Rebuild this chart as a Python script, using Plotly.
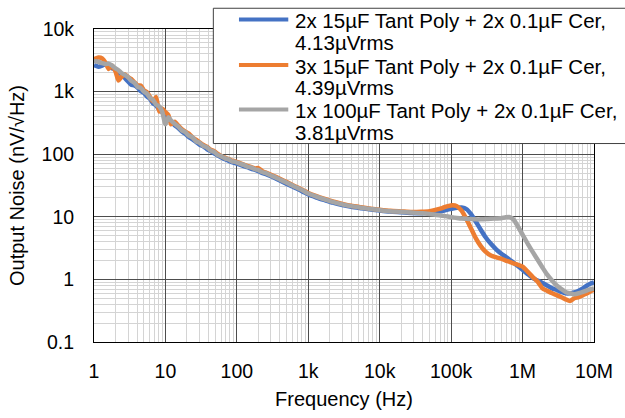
import plotly.graph_objects as go

# Frequency points (Hz)
freq = [
    1, 1.15, 1.3, 1.45, 1.6, 1.8, 2, 2.2, 2.4, 2.7,
    3, 3.3, 3.7, 4.1, 4.5, 5, 5.5, 6.1, 6.7, 7.4,
    8.2, 9, 10, 11, 12, 13.5, 15, 17, 19, 21,
    24, 27, 30, 34, 38, 43, 48, 54, 60, 68,
    76, 85, 95, 110, 125, 140, 160, 180, 200, 230,
    260, 300, 350, 400, 500, 600, 700, 850, 1000, 1300,
    1700, 2200, 3000, 4000, 5500, 7500, 10000, 14000, 20000, 28000,
    38000, 50e3, 62e3, 75e3, 90e3, 105e3, 120e3, 140e3, 165e3, 190e3,
    220e3, 260e3, 300e3, 360e3, 430e3, 500e3, 580e3, 660e3, 750e3, 850e3,
    1e6, 1.2e6, 1.4e6, 1.65e6, 1.9e6, 2.2e6, 2.6e6, 3e6, 3.5e6, 4e6,
    4.6e6, 5.3e6, 6.1e6, 7e6, 8e6, 9e6, 10e6,
]

# Output noise (nV/rtHz), 2x 15uF tantalum polymer
noise_2x15 = [
    2650, 2500, 2600, 2750, 2550, 2350, 2300, 2000, 1900, 1650,
    1450, 1300, 1250, 1150, 1020, 960, 840, 760, 650, 600,
    520, 470, 420, 360, 330, 290, 265, 230, 212, 190,
    172, 156, 143, 133, 121, 112, 103, 95, 89, 83,
    79, 75, 72, 68, 64.5, 62, 58.5, 56, 53.5, 50,
    47.5, 44.5, 41, 38, 33.5, 30.5, 28, 25, 22.7, 20.3,
    18.4, 16.8, 15.4, 14.4, 13.7, 13.1, 12.6, 12.1, 11.8, 11.5,
    11.4, 11.6, 11.9, 12.4, 13, 13.6, 14, 14.1, 13.2, 11,
    8.5, 6.2, 4.8, 3.7, 3.0, 2.6, 2.3, 2.05, 1.85, 1.65,
    1.42, 1.2, 1.05, 0.95, 0.88, 0.8, 0.72, 0.68, 0.63, 0.6,
    0.6, 0.62, 0.66, 0.72, 0.8, 0.86, 0.9,
]

# Output noise (nV/rtHz), 3x 15uF tantalum polymer
noise_3x15 = [
    3300, 3500, 3400, 2900, 2300, 2600, 2100, 1500, 1700, 1900,
    1700, 1600, 1400, 1250, 1250, 1050, 980, 820, 700, 820,
    480, 530, 470, 420, 300, 330, 290, 250, 230, 215,
    185, 170, 155, 140, 132, 118, 112, 101, 94, 88,
    84, 79, 77, 72, 68, 65, 62, 59, 60, 53,
    50.5, 47, 43.5, 40.5, 35.8, 32.2, 29.6, 26.6, 24, 21.4,
    19.3, 17.6, 16.1, 15, 14.2, 13.5, 13, 12.5, 12.2, 11.9,
    12, 12.3, 13, 13.8, 14.8, 15.3, 14.8, 12.5, 9, 6.5,
    4.6, 3.4, 2.8, 2.4, 2.25, 2.15, 2.0, 1.9, 1.8, 1.72,
    1.6, 1.3, 1.08, 0.9, 0.72, 0.66, 0.6, 0.56, 0.52, 0.48,
    0.45, 0.5, 0.52, 0.56, 0.6, 0.65, 0.68,
]

# Output noise (nV/rtHz), 1x 100uF tantalum polymer
noise_1x100 = [
    3100, 3000, 2850, 2750, 2800, 2600, 2350, 2200, 2000, 1850,
    1700, 1500, 1380, 1180, 1150, 1000, 930, 790, 740, 620,
    580, 480, 300, 390, 345, 305, 278, 240, 225, 200,
    185, 160, 152, 135, 129, 114, 109, 97, 93, 86,
    83, 77, 75.5, 70.5, 67.5, 63.5, 61, 57.5, 55.5, 51.5,
    49.5, 45.8, 42.5, 39.5, 35, 31.6, 29, 26, 23.5, 21,
    19, 17.3, 15.8, 14.8, 14, 13.3, 12.8, 12.3, 12, 11.7,
    11.4, 11.1, 10.7, 10.4, 10.1, 9.8, 9.6, 9.4, 9.3, 9.2,
    9.1, 9.1, 9.2, 9.3, 9.4, 9.5, 9.8, 9.9, 9.0, 7.2,
    5.2, 3.6, 2.7, 2.0, 1.55, 1.2, 0.95, 0.8, 0.7, 0.63,
    0.6, 0.58, 0.6, 0.63, 0.67, 0.7, 0.72,
]

series_names = [
    ["2x 15µF Tant Poly + 2x 0.1µF Cer,", "4.13µVrms"],
    ["3x 15µF Tant Poly + 2x 0.1µF Cer,", "4.39µVrms"],
    ["1x 100µF Tant Poly + 2x 0.1µF Cer,", "3.81µVrms"],
]
series_values = [noise_2x15, noise_3x15, noise_1x100]
series_colors = ["#4472C4", "#ED7D31", "#A5A5A5"]

x_tickvals = [1, 10, 100, 1e3, 1e4, 1e5, 1e6, 1e7]
x_ticktext = ["1", "10", "100", "1k", "10k", "100k", "1M", "10M"]
y_tickvals = [0.1, 1, 10, 100, 1e3, 1e4]
y_ticktext = ["0.1", "1", "10", "100", "1k", "10k"]

FONT = "Liberation Sans, Arial, sans-serif"
W, H = 625, 418
ML, MR, MT, MB = 94, 24, 29, 72
PW, PH = W - ML - MR, H - MT - MB


def px_x(p):
    return (p - ML) / PW


def px_y(p):
    return (H - MB - p) / PH


fig = go.Figure()
for names, vals, col in zip(series_names, series_values, series_colors):
    fig.add_trace(go.Scatter(
        x=freq, y=vals, mode="lines", name=" ".join(names),
        line=dict(color=col, width=4.5, shape="spline", smoothing=0.5),
        showlegend=False,
    ))

axis_common = dict(
    type="log",
    showgrid=True, gridcolor="#4d4d4d", gridwidth=1,
    minor=dict(dtick="D1", showgrid=True, gridcolor="#d4d4d4", gridwidth=1, ticks=""),
    showline=True, linecolor="#000000", linewidth=1, mirror=True,
    ticks="", zeroline=False,
    tickfont=dict(family=FONT, size=19.5, color="#000000"),
)

fig.update_layout(
    width=W, height=H,
    margin=dict(l=ML, r=MR, t=MT, b=MB),
    paper_bgcolor="white", plot_bgcolor="white",
    font=dict(family=FONT, color="#000000"),
    xaxis=dict(
        axis_common, range=[0, 7],
        tickvals=x_tickvals, ticktext=x_ticktext,
        ticklabelstandoff=12,
        title=dict(text="Frequency (Hz)", font=dict(family=FONT, size=20), standoff=10),
    ),
    yaxis=dict(
        axis_common, range=[-1, 4],
        tickvals=y_tickvals, ticktext=y_ticktext,
        ticklabelstandoff=15,
        title=dict(text="Output Noise (nV/√Hz)", font=dict(family=FONT, size=20), standoff=11),
    ),
)

# Legend panel
box_left, box_top, box_bottom = 215, 8, 145
fig.add_shape(type="rect", xref="paper", yref="paper",
              x0=px_x(box_left), x1=px_x(W + 20), y0=px_y(box_bottom), y1=px_y(box_top),
              line=dict(color="#404040", width=1), fillcolor="white", layer="above")

line_y = [19.5, 65.5, 110.5]
text_y = [[20, 43], [66.5, 88.5], [111.5, 133.5]]
for names, col, ly, tys in zip(series_names, series_colors, line_y, text_y):
    fig.add_shape(type="line", xref="paper", yref="paper",
                  x0=px_x(241), x1=px_x(291), y0=px_y(ly), y1=px_y(ly),
                  line=dict(color=col, width=4), layer="above")
    for txt, ty in zip(names, tys):
        fig.add_annotation(xref="paper", yref="paper", x=px_x(296), y=px_y(ty),
                           xanchor="left", yanchor="middle", showarrow=False,
                           text=txt, font=dict(family=FONT, size=20.5, color="#000000"))

fig.write_html("out.html")
